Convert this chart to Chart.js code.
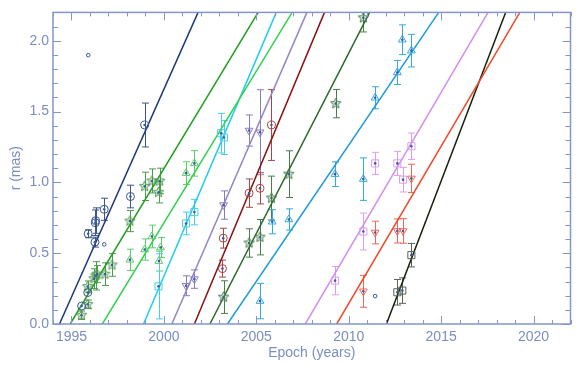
<!DOCTYPE html>
<html><head><meta charset="utf-8">
<script src="https://cdn.jsdelivr.net/npm/chart.js@4"></script>
<style>html,body{margin:0;padding:0;background:#fff;}#wrap{width:577px;height:365px;position:relative;}</style>
</head><body><div id="wrap"><canvas id="c"></canvas></div>
<script>
// ---- data ----
const xTicks = [1995, 2000, 2005, 2010, 2015, 2020];
const yTicks = [0.0, 0.5, 1.0, 1.5, 2.0];
const xRange = [1994, 2022];
const yRange = [0, 2.2];

// component tracks: epoch where r = 0 and epoch where r = 2.2
const trackEpochAtZero = [1994.35, 1994.93, 1996.67, 1998.90, 2000.43, 2001.65, 2002.49, 2003.44, 2007.65, 2009.35, 2012.04];
const trackEpochAtTop  = [2001.85, 2005.10, 2006.94, 2006.08, 2007.74, 2008.69, 2011.13, 2014.87, 2017.54, 2019.26, 2018.49];

// observations: [epoch, r (mas), error]
const obsNavy = [[1998.96,1.405,0.155],[1998.19,0.90,0.08],[1996.77,0.81,0.078],[1996.31,0.73,0.09],[1996.29,0.715,0.09],[1995.90,0.637,0.028],[1996.27,0.578,0.035],[1995.88,0.222,0],[1995.55,0.127,0]];
const obsGreen = [[1995.54,0.062,0.03],[1995.88,0.139,0.03],[1995.88,0.264,0.04],[1996.22,0.32,0.07],[1996.31,0.34,0.1],[1996.38,0.352,0.06],[1996.81,0.352,0.08],[1997.19,0.417,0.08],[1998.16,0.727,0.075],[1998.96,0.972,0.1],[1999.35,1.01,0.085],[1999.77,1.01,0.09],[1999.71,0.93,0.075]];
const obsLightGreen = [[1998.16,0.453,0.075],[1998.96,0.526,0.075],[1999.35,0.618,0.08],[1999.73,0.444,0.07],[1999.82,0.54,0.07],[2001.2,1.065,0.08],[2001.65,1.134,0.09]];
const obsCyan = [[1999.71,0.266,0.23],[2001.2,0.71,0.08],[2001.65,0.79,0.09],[2003.1,1.347,0.14],[2003.25,1.317,0.12]];
const obsPurple = [[2001.2,0.27,0.07],[2001.65,0.317,0.065],[2003.23,0.84,0.1],[2004.61,1.366,0.11],[2005.2,1.354,0.3]];
const obsDarkRed = [[2003.17,0.391,0.06],[2003.21,0.606,0.07],[2004.61,0.924,0.1],[2005.2,0.958,0.11],[2005.82,1.405,0.25]];
const obsDarkGreen = [[2003.23,0.19,0.115],[2004.61,0.572,0.1],[2005.2,0.613,0.125],[2005.82,0.889,0.155],[2006.76,1.058,0.165],[2009.3,1.556,0.1],[2010.79,2.162,0.1]];
const obsBlue = [[2005.2,0.162,0.125],[2005.86,0.722,0.085],[2006.76,0.738,0.075],[2009.26,1.058,0.087],[2010.79,1.023,0.15],[2011.43,1.597,0.078],[2012.63,1.776,0.085],[2012.9,2.007,0.105],[2013.39,1.93,0.115]];
const obsViolet = [[2009.26,0.306,0.1],[2010.79,0.653,0.13],[2011.43,1.134,0.078],[2012.63,1.134,0.085],[2012.94,1.019,0.087],[2013.39,1.255,0.093]];
const obsRed = [[2010.79,0.231,0.113],[2011.43,0.646,0.08],[2012.63,0.657,0.085],[2012.94,0.657,0.087],[2013.39,1.028,0.1]];
const obsBlack = [[2012.63,0.224,0.09],[2012.9,0.236,0.09],[2013.39,0.486,0.083]];
const obsNavySmall = [[1995.91,1.898],[1996.77,0.562],[2011.43,0.197]];

// ---- styling ----
const AXIS = '#8496c8', TEXT = '#7b8ec2', FONT = '"Liberation Sans", Arial, sans-serif';
function starCanvas(color, R){
  const s = Math.ceil(R*2+4); const c = document.createElement('canvas'); c.width = s; c.height = s;
  const g = c.getContext('2d'); g.strokeStyle = color; g.fillStyle = 'rgba(120,180,120,0.25)'; g.lineWidth = 1; g.beginPath();
  for (let k=0;k<10;k++){ const rr = k%2 ? R*0.45 : R; const a = -Math.PI/2 + k*Math.PI/5;
    const px = s/2 + rr*Math.cos(a), py = s/2 + rr*Math.sin(a); if(k) g.lineTo(px,py); else g.moveTo(px,py); }
  g.closePath(); g.fill(); g.stroke(); return c;
}
const comps = [
  {obs: obsNavy,       line:'#1f3a78', mark:'#3a5590', shape:'circle',   r:4},
  {obs: obsGreen,      line:'#1f9e1f', mark:'#4e9a4e', shape:'star',     r:5.5},
  {obs: obsLightGreen, line:'#2fd34f', mark:'#5ccc6a', shape:'triangle', r:4.5},
  {obs: obsCyan,       line:'#1fcdf0', mark:'#49cdee', shape:'rect',     r:5},
  {obs: obsPurple,     line:'#9585c8', mark:'#8a7abd', shape:'triangle', r:4.5, rot:180},
  {obs: obsDarkRed,    line:'#8a1212', mark:'#a84444', shape:'circle',   r:4},
  {obs: obsDarkGreen,  line:'#2b6a2b', mark:'#4a7d4a', shape:'star',     r:5.5},
  {obs: obsBlue,       line:'#1c9ad9', mark:'#35a8de', shape:'triangle', r:4.5},
  {obs: obsViolet,     line:'#cf8ff0', mark:'#de9cee', shape:'rect',     r:5},
  {obs: obsRed,        line:'#f04a2a', mark:'#ee6655', shape:'triangle', r:4.5, rot:180},
  {obs: obsBlack,      line:'#15200e', mark:'#5a6250', shape:'rect',     r:5},
];

const datasets = [];
comps.forEach((c, i) => {
  datasets.push({
    type:'scatter', data: c.obs.map(o => ({x:o[0], y:o[1]})), errs: c.obs.map(o => o[2]),
    borderColor: c.mark, backgroundColor: 'rgba(0,0,0,0)', borderWidth: 1,
    pointStyle: c.shape === 'star' ? starCanvas(c.mark, c.r) : c.shape,
    pointRadius: c.r, pointRotation: c.rot || 0, dot: true, order: 1
  });
});
datasets.push({type:'scatter', data: obsNavySmall.map(o => ({x:o[0], y:o[1]})), borderColor:'#3a5590',
  backgroundColor:'rgba(0,0,0,0)', borderWidth:1, pointStyle:'circle', pointRadius:1.8, order:1});
comps.forEach((c, i) => {
  datasets.push({type:'line', data:[{x:trackEpochAtZero[i], y:yRange[0]}, {x:trackEpochAtTop[i], y:yRange[1]}],
    borderColor: c.line, borderWidth: 1.5, pointRadius: 0, fill: false, order: 2});
});

const errorBars = {
  id:'errorBars',
  beforeDatasetsDraw(chart){
    const {ctx, chartArea:a, scales:{x, y}} = chart;
    ctx.save(); ctx.beginPath(); ctx.rect(a.left, a.top, a.right-a.left, a.bottom-a.top); ctx.clip();
    ctx.lineWidth = 1;
    chart.data.datasets.forEach(ds => {
      if (!ds.errs) return;
      ctx.strokeStyle = ds.borderColor;
      ds.data.forEach((p, i) => {
        const e = ds.errs[i]; if (!e) return;
        const px = Math.round(x.getPixelForValue(p.x)) + 0.5;
        const y1 = y.getPixelForValue(p.y + e), y2 = y.getPixelForValue(p.y - e);
        ctx.beginPath(); ctx.moveTo(px, y1); ctx.lineTo(px, y2);
        ctx.moveTo(px-3.5, y1); ctx.lineTo(px+3.5, y1);
        ctx.moveTo(px-3.5, y2); ctx.lineTo(px+3.5, y2); ctx.stroke();
      });
    });
    ctx.restore();
  },
  afterDatasetsDraw(chart){
    const {ctx, scales:{x, y}, chartArea:a} = chart;
    ctx.save();
    ctx.fillStyle = '#3d5aa5';
    chart.data.datasets.forEach(ds => {
      if (!ds.dot) return;
      ds.data.forEach(p => { ctx.beginPath(); ctx.arc(x.getPixelForValue(p.x), y.getPixelForValue(p.y), 1.3, 0, Math.PI*2); ctx.fill(); });
    });
    // frame and inward ticks
    ctx.strokeStyle = AXIS; ctx.lineWidth = 1.5;
    ctx.strokeRect(a.left, a.top, a.right-a.left, a.bottom-a.top);
    ctx.lineWidth = 1;
    ctx.beginPath();
    for (let v = Math.ceil(xRange[0]); v <= xRange[1]; v++) {
      const px = Math.round(x.getPixelForValue(v)) + 0.5; const L = (v % 5 === 0) ? 8 : 4;
      ctx.moveTo(px, a.bottom); ctx.lineTo(px, a.bottom - L);
      ctx.moveTo(px, a.top); ctx.lineTo(px, a.top + L);
    }
    for (let k = 0; k <= Math.round(yRange[1]*10); k++) {
      const py = Math.round(y.getPixelForValue(k/10)) + 0.5; const L = (k % 5 === 0) ? 8 : 5;
      ctx.moveTo(a.left, py); ctx.lineTo(a.left + L, py);
      ctx.moveTo(a.right, py); ctx.lineTo(a.right - L, py);
    }
    ctx.stroke();
    ctx.restore();
  }
};

new Chart(document.getElementById('c'), {
  data: { datasets },
  options: {
    responsive: true, maintainAspectRatio: false, animation: false,
    layout: { padding: { top: 7, right: 1, left: 0, bottom: 0 } },
    plugins: { legend: { display: false }, tooltip: { enabled: false } },
    scales: {
      x: {
        type: 'linear', min: xRange[0], max: xRange[1],
        grid: { display: false, drawTicks: false }, border: { display: false },
        afterBuildTicks: s => { s.ticks = xTicks.map(v => ({value: v})); },
        afterFit: s => { s.height = 41; },
        ticks: { color: TEXT, font: { family: FONT, size: 14 }, padding: 5, callback: v => String(v), maxRotation: 0 },
        title: { display: true, text: 'Epoch (years)', color: TEXT, font: { family: FONT, size: 14 }, padding: { top: 0, bottom: 3.6 } }
      },
      y: {
        type: 'linear', min: yRange[0], max: yRange[1],
        grid: { display: false, drawTicks: false }, border: { display: false },
        afterBuildTicks: s => { s.ticks = yTicks.map(v => ({value: v})); },
        afterFit: s => { s.width = 53; },
        ticks: { color: TEXT, font: { family: FONT, size: 14 }, padding: 4, callback: v => Number(v).toFixed(1) },
        title: { display: true, text: 'r (mas)', color: TEXT, font: { family: FONT, size: 14 }, padding: { top: 7.6, bottom: 0 } }
      }
    }
  },
  plugins: [errorBars]
});
</script></body></html>
